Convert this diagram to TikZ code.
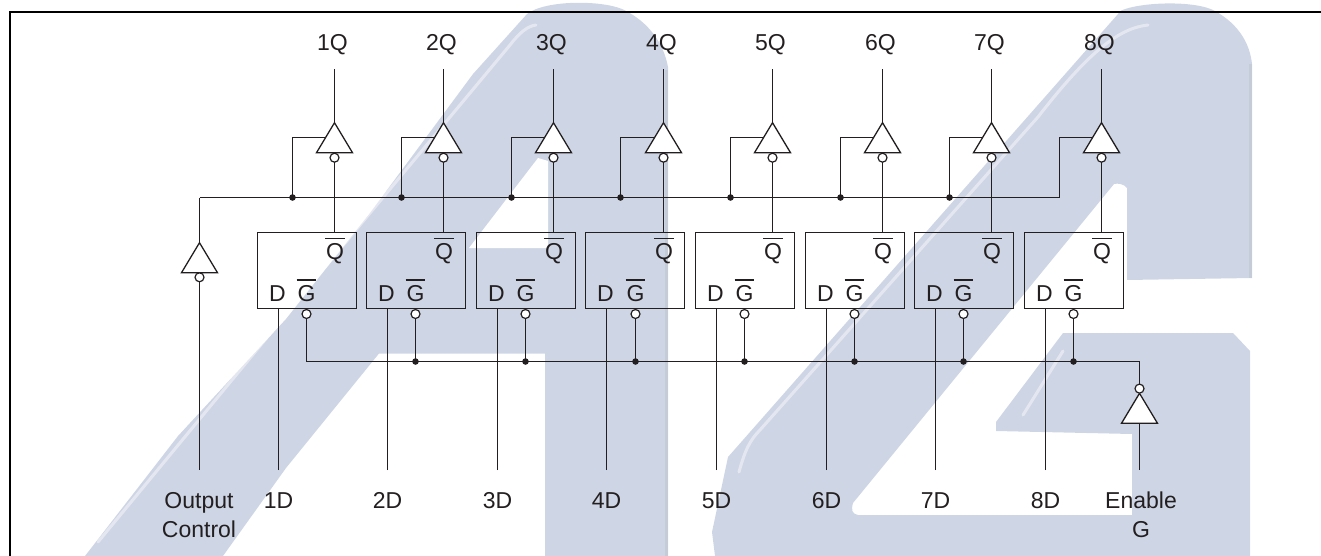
\documentclass[tikz,border=0pt]{standalone}
\usepackage{fontspec}
\setmainfont{Liberation Sans}
\usetikzlibrary{shapes.geometric,calc}
\definecolor{ink}{HTML}{231F20}
\definecolor{wm}{HTML}{CED5E5}
\definecolor{wmedge}{HTML}{C6CBD8}
\newcommand\ovbar[1]{\setbox0\hbox{#1}\rlap{\hspace{\dimexpr(\wd0-19.7pt)/2\relax}\smash{\raisebox{20.4pt}{\rule{19.7pt}{1.2pt}}}}\box0 }
\tikzset{
  wire/.style={draw=ink,line width=1.2pt},
  frameline/.style={draw=black,line width=2pt},
  buf/.style={shape=isosceles triangle,draw=ink,fill=white,line width=1.3pt,inner sep=0pt,outer sep=0pt,
    isosceles triangle stretches,shape border rotate=90,minimum width=36pt,minimum height=30pt},
  bubble/.style={circle,draw=ink,fill=white,line width=1.2pt,inner sep=0pt,outer sep=0pt,minimum size=9pt},
  joint/.style={circle,fill=ink,inner sep=0pt,minimum size=6.6pt},
  ffbox/.style={draw=ink,line width=1.2pt,inner sep=0pt,outer sep=0pt,minimum width=99pt,minimum height=76pt,anchor=north west},
  lab/.style={text=ink,inner sep=0pt,font=\fontsize{23}{28.5}\selectfont},
  streak/.style={draw=white,opacity=.45,line width=3pt,line cap=round,line join=round},
  edgeline/.style={draw=wmedge,line width=3pt},
}
\begin{document}
\begin{tikzpicture}[x=1pt,y=-1pt]
\useasboundingbox (0,0) rectangle (1321,556);
% watermark
\fill[wm] (85,556) -- (178,436) -- (286,319) -- (370,213) -- (473,74) -- (527,14) .. controls (545,0) and (600,0) .. (622,9) .. controls (650,22) and (664,45) .. (668,67)
  -- (668,556) -- (545,556) -- (545,353.5) -- (379,353.5) -- (286,468) -- (223,556) -- cycle;
\fill[white] (548,161) -- (548,248) -- (469,248) -- (538,158) -- cycle;
\fill[wm] (715,556) -- (712,532) -- (728,457) -- (1121,10.6) .. controls (1140,2) and (1195,0) .. (1215,11)
  .. controls (1240,25) and (1250,45) .. (1252,64) -- (1252,278) -- (1127,280) -- (1127,188) .. controls (1124,184) and (1118,183) .. (1114,184)
  -- (853,503) .. controls (851,510) and (852,514) .. (858,515) -- (1132,515) -- (1132,434) -- (996,431) -- (996,422) -- (1063,333)
  -- (1233,333) -- (1250,351) -- (1250,556) -- cycle;
\draw[edgeline] (666.5,70) -- (666.5,556);
\draw[edgeline] (1250.5,64) -- (1250.5,278);
\draw[streak] (98,542) -- (370,213) -- (510,45) .. controls (520,32) and (528,26) .. (536,25);
\draw[streak] (739,472) .. controls (745,450) and (750,440) .. (760,430) -- (1038,117) .. controls (1090,50) and (1120,28) .. (1148,25);
\draw[streak] (1023,415) -- (1063,351);
% frame
\coordinate (fa) at (10,556);
\coordinate (fb) at (10,12);
\coordinate (fc) at (1321,12);
\draw[frameline] (fa) -- (fb) -- (fc);
% buses
\coordinate (ob) at (199.5,197.5);
\coordinate (ge) at (1139.5,361.5);
% output-control buffer
\node[buf,anchor=apex] (oc) at (199.5,242.7) {};
\node[bubble] (ocb) at (199.5,277.3) {};
\coordinate (ocin) at (199.5,470);
\draw[wire] (oc.apex) -- (ob);
\draw[wire] (ocb.south) -- (ocin);
\node[lab,align=center] (oclab) at (199,515) {Output\\Control};
% enable buffer
\node[buf,anchor=apex] (en) at (1139.5,393.3) {};
\node[bubble] (enb) at (1139.5,388.6) {};
\coordinate (enin) at (1139.5,470);
\draw[wire] (enb.north) -- (ge);
\draw[wire] (en.lower side) -- (enin);
\node[lab,align=center] (enlab) at (1141,515) {Enable\\G};
\foreach \i in {1,...,8}{
  \pgfmathsetmacro\dx{109.6*(\i-1)}
  \pgfmathsetmacro\qx{floor(334.3+\dx)+.5}
  \pgfmathsetmacro\sx{floor(292+\dx)+.5}
  \pgfmathsetmacro\bx{floor(257+\dx)+.5}
  \pgfmathsetmacro\ddx{floor(278+\dx)+.5}
  \pgfmathsetmacro\gx{floor(306.3+\dx)+.5}
  \node[ffbox] (ff\i) at (\bx,232.5) {};
  \node[buf,anchor=apex] (b\i) at (\qx,122.7) {};
  \node[bubble] (bb\i) at (\qx,157.7) {};
  \node[bubble] (gb\i) at (\gx,314) {};
  \coordinate (o\i) at (\qx,69);
  \coordinate (d\i) at (\ddx,470);
  \coordinate (t\i) at (\sx,197.5);
  \coordinate (g\i) at (\gx,361.5);
  \draw[wire] (b\i.apex) -- (o\i);
  \draw[wire] (bb\i.south) -- (bb\i.south |- ff\i.north);
  \draw[wire] (d\i) -- (d\i |- ff\i.south);
  \draw[wire] (gb\i.south) -- (g\i);
  \draw[wire] (b\i.left side) -- (b\i.left side -| t\i) -- (t\i);
  \node[lab,anchor=base] (ql\i) at (\qx+0.6,259.7) {\ovbar{Q}};
  \node[lab,anchor=base] (dl\i) at (\ddx-1,301) {D};
  \node[lab,anchor=base] (gl\i) at (\gx,301) {\ovbar{G}};
  \node[lab,anchor=base] (tq\i) at (\qx-2,51) {\i Q};
  \node[lab,anchor=base] (bd\i) at (\ddx,508.7) {\i D};
}
\draw[wire] (ob) -- (t8);
\draw[wire] (g1) -- (ge);
\foreach \i in {1,...,7}{ \node[joint] (ju\i) at (t\i) {}; }
\foreach \i in {2,...,8}{ \node[joint] (jl\i) at (g\i) {}; }
\end{tikzpicture}
\end{document}
